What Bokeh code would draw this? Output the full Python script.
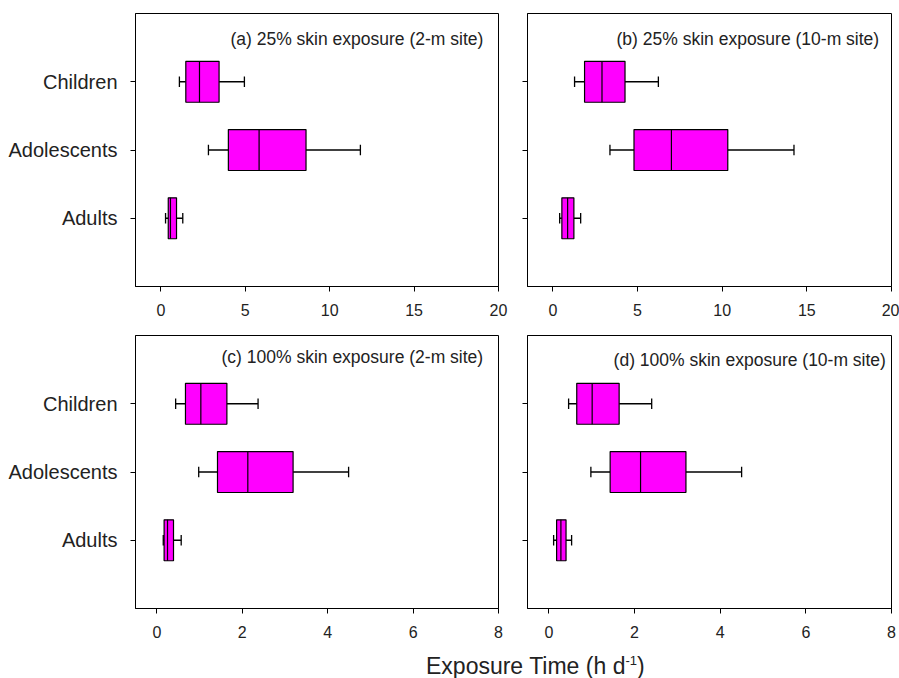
from bokeh.plotting import figure
from bokeh.layouts import column, row
from bokeh.models import FixedTicker, Label, Div, ColumnDataSource
from bokeh.embed import file_html
from bokeh.resources import INLINE

# ---------------- data ----------------
groups = ["Children", "Adolescents", "Adults"]
group_pos = [3, 2, 1]

# panel (a) 25% skin exposure (2-m site)
a_low = [1.10, 2.82, 0.28]
a_q1 = [1.48, 4.00, 0.44]
a_med = [2.29, 5.82, 0.57]
a_q3 = [3.45, 8.60, 0.93]
a_high = [4.95, 11.82, 1.30]

# panel (b) 25% skin exposure (10-m site)
b_low = [1.28, 3.37, 0.40]
b_q1 = [1.87, 4.79, 0.53]
b_med = [2.90, 7.00, 0.87]
b_q3 = [4.26, 10.33, 1.24]
b_high = [6.23, 14.24, 1.64]

# panel (c) 100% skin exposure (2-m site)
c_low = [0.44, 0.98, 0.15]
c_q1 = [0.67, 1.42, 0.17]
c_med = [1.03, 2.13, 0.25]
c_q3 = [1.64, 3.19, 0.39]
c_high = [2.37, 4.49, 0.57]

# panel (d) 100% skin exposure (10-m site)
d_low = [0.46, 0.98, 0.11]
d_q1 = [0.65, 1.43, 0.18]
d_med = [1.01, 2.14, 0.28]
d_q3 = [1.64, 3.20, 0.40]
d_high = [2.40, 4.50, 0.53]

titles = [
    "(a) 25% skin exposure (2-m site)",
    "(b) 25% skin exposure (10-m site)",
    "(c) 100% skin exposure (2-m site)",
    "(d) 100% skin exposure (10-m site)",
]
ticks_top = [0, 5, 10, 15, 20]
ticks_bottom = [0, 2, 4, 6, 8]

FONT = "Liberation Sans"
FILL = "#FF00FF"
BOX_H = 0.6
CAP = 0.078


def make_panel(low, q1, med, q3, high, title, xr, ticks, label_x, label_y,
               width, height, bl, br, bt, bb, show_labels):
    p = figure(width=width, height=height, x_range=xr, y_range=(0, 4),
               output_backend="svg", toolbar_location=None,
               min_border_left=bl, min_border_right=br,
               min_border_top=bt, min_border_bottom=bb)
    p.grid.visible = False
    p.outline_line_color = "black"
    p.outline_line_width = 1
    p.outline_line_alpha = 1

    src = ColumnDataSource(dict(
        y=group_pos, low=low, q1=q1, med=med, q3=q3, high=high,
        y0=[v - BOX_H / 2 for v in group_pos],
        y1=[v + BOX_H / 2 for v in group_pos],
        c0=[v - CAP for v in group_pos],
        c1=[v + CAP for v in group_pos],
    ))
    # whisker stems
    p.segment(x0="low", x1="q1", y0="y", y1="y", source=src,
              line_color="black", line_width=1.3)
    p.segment(x0="q3", x1="high", y0="y", y1="y", source=src,
              line_color="black", line_width=1.3)
    # caps
    p.segment(x0="low", x1="low", y0="c0", y1="c1", source=src,
              line_color="black", line_width=1.3)
    p.segment(x0="high", x1="high", y0="c0", y1="c1", source=src,
              line_color="black", line_width=1.3)
    # boxes
    p.hbar(y="y", left="q1", right="q3", height=BOX_H, source=src,
           fill_color=FILL, line_color="black", line_width=1.2)
    # medians
    p.segment(x0="med", x1="med", y0="y0", y1="y1", source=src,
              line_color="black", line_width=1.2)

    p.add_layout(Label(x=label_x, y=label_y, text=title,
                       text_align="right", text_baseline="middle",
                       text_font=FONT, text_font_size="17.5px",
                       text_color="#222222"))

    xa = p.xaxis[0]
    xa.ticker = FixedTicker(ticks=ticks)
    xa.minor_tick_line_color = None
    xa.major_tick_in = 0
    xa.major_tick_out = 5
    xa.major_label_standoff = 12
    xa.major_label_text_font = FONT
    xa.major_label_text_font_size = "16px"
    xa.major_label_text_color = "#222222"
    xa.axis_line_color = "black"
    xa.major_tick_line_color = "black"

    ya = p.yaxis[0]
    ya.ticker = FixedTicker(ticks=group_pos)
    ya.minor_tick_line_color = None
    ya.major_tick_in = 0
    ya.major_tick_out = 5
    ya.major_label_standoff = 13
    ya.axis_line_color = "black"
    ya.major_tick_line_color = "black"
    ya.major_label_text_font = FONT
    ya.major_label_text_font_size = "20px"
    ya.major_label_text_color = "#222222"
    if show_labels:
        ya.major_label_overrides = {pos: g for pos, g in zip(group_pos, groups)}
    else:
        ya.major_label_overrides = {pos: "" for pos in group_pos}
    return p


pa = make_panel(a_low, a_q1, a_med, a_q3, a_high, titles[0], (-1.5, 20), ticks_top,
                19.1, 3.62, 508, 326, 135, 10, 13, 40, True)
pb = make_panel(b_low, b_q1, b_med, b_q3, b_high, titles[1], (-1.5, 20), ticks_top,
                19.27, 3.62, 391, 326, 19, 8, 13, 40, False)
pc = make_panel(c_low, c_q1, c_med, c_q3, c_high, titles[2], (-0.5, 8), ticks_bottom,
                7.64, 3.68, 508, 318, 135, 10, 9, 36, True)
pd_ = make_panel(d_low, d_q1, d_med, d_q3, d_high, titles[3], (-0.5, 8), ticks_bottom,
                 7.87, 3.64, 391, 318, 19, 8, 9, 36, False)

xlabel = Div(text="Exposure Time (h d<sup style='font-size:13px'>-1</sup>)",
             width=899, height=30,
             styles={"font-family": FONT, "font-size": "23px", "color": "#222222",
                     "padding-left": "421px", "padding-top": "0px",
                     "line-height": "24px", "white-space": "nowrap"})

layout = column(row(pa, pb), row(pc, pd_), xlabel)

with open("out.html", "w") as f:
    f.write(file_html(layout, INLINE))
